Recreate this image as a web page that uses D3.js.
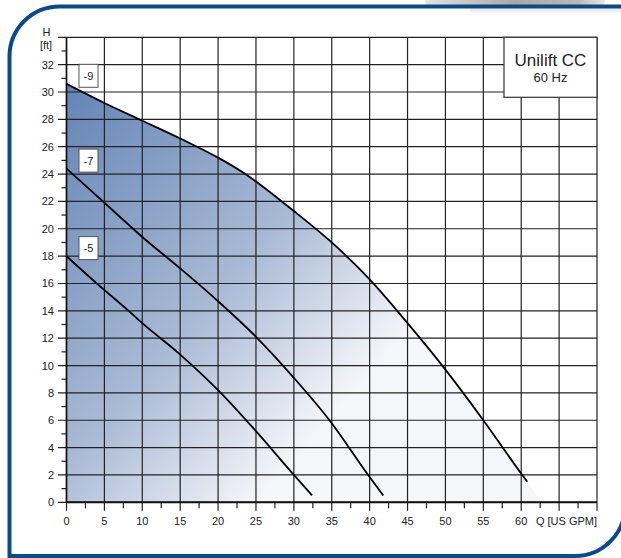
<!DOCTYPE html>
<html>
<head>
<meta charset="utf-8">
<script src="https://cdn.jsdelivr.net/npm/d3@7"></script>
<style>
  body { margin: 0; background: #fff; }
  svg { display: block; font-family: "Liberation Sans", Arial, sans-serif; }
</style>
</head>
<body>
<svg id="chart" width="621" height="558"></svg>
<script>
// pump curves
var pumpNames = ["-9", "-7", "-5"];
var q9 = [0, 5, 10, 15, 20, 23.6, 25, 28.4, 30, 35, 40, 45, 50, 55, 60, 60.8];
var h9 = [30.6, 29.2, 27.9, 26.6, 25.2, 24.0, 23.45, 22.0, 21.3, 19.0, 16.3, 13.1, 9.7, 6.0, 2.1, 1.5];
var q7 = [0, 5, 10, 15, 20, 25, 30, 34.7, 39.8, 41.8];
var h7 = [24.4, 21.9, 19.4, 17.1, 14.7, 12.1, 9.1, 6.0, 2.0, 0.5];
var q5 = [0, 4, 8.2, 10, 15, 20, 25, 30, 32.4];
var h5 = [18.0, 16.0, 14.0, 13.1, 10.8, 8.2, 5.2, 2.0, 0.5];
// where the shaded range meets the Q axis
var areaEndQ = 62.7;

var qTicks = [0, 5, 10, 15, 20, 25, 30, 35, 40, 45, 50, 55, 60, 65, 70];
var qTickLabels = ["0", "5", "10", "15", "20", "25", "30", "35", "40", "45", "50", "55", "60"];
var hTicks = [0, 2, 4, 6, 8, 10, 12, 14, 16, 18, 20, 22, 24, 26, 28, 30, 32, 34];
var hTickLabels = ["0", "2", "4", "6", "8", "10", "12", "14", "16", "18", "20", "22", "24", "26", "28", "30", "32"];

var title = "Unilift CC";
var subTitle = "60 Hz";

(function() {
  var svg = d3.select("#chart");
  var left = 66.5, right = 597, top = 37.3, bottom = 502.3;

  var x = d3.scaleLinear().domain([0, 70]).range([left, right]);
  var y = d3.scaleLinear().domain([0, 34]).range([bottom, top]);

  var zip = function(qs, hs) {
    return qs.map(function(q, i) { return { q: q, h: hs[i] }; });
  };
  var curves = [zip(q9, h9), zip(q7, h7), zip(q5, h5)];

  var defs = svg.append("defs");
  var grad = defs.append("linearGradient")
    .attr("id", "fade")
    .attr("gradientUnits", "userSpaceOnUse")
    .attr("x1", 66).attr("y1", 55)
    .attr("x2", 395).attr("y2", 345);
  grad.append("stop").attr("offset", 0).attr("stop-color", "#5f80b3");
  grad.append("stop").attr("offset", 0.62).attr("stop-color", "#a9bad5");
  grad.append("stop").attr("offset", 1).attr("stop-color", "#f5f6fa");

  var tab = defs.append("linearGradient").attr("id", "tab");
  tab.append("stop").attr("offset", 0).attr("stop-color", "#e2e2e2");
  tab.append("stop").attr("offset", 0.5).attr("stop-color", "#a8a8a8");
  tab.append("stop").attr("offset", 0.85).attr("stop-color", "#b8b8b8");
  tab.append("stop").attr("offset", 1).attr("stop-color", "#e8e8e8");

  // frame
  svg.append("rect")
    .attr("x", 425).attr("y", -6).attr("width", 180).attr("height", 12)
    .attr("rx", 5)
    .attr("fill", "url(#tab)");
  svg.append("rect")
    .attr("x", 470).attr("y", 8).attr("width", 160).attr("height", 4)
    .attr("fill", "#eceff2");
  svg.append("path")
    .attr("d", "M640,6.5 H59.5 A50,50 0 0 0 9.5,56.5 V556 H575 A50,50 0 0 0 625,506 V6.5")
    .attr("fill", "none")
    .attr("stroke", "#0b4a86")
    .attr("stroke-width", 4);

  var line = d3.line()
    .x(function(d) { return x(d.q); })
    .y(function(d) { return y(d.h); })
    .curve(d3.curveMonotoneX);

  // shaded working range under the biggest pump
  var areaD = line(curves[0]) + "L" + x(areaEndQ) + "," + y(0) + "L" + x(0) + "," + y(0) + "Z";
  svg.append("path")
    .attr("d", areaD)
    .attr("fill", "url(#fade)");

  // grid
  var grid = svg.append("g").attr("stroke", "#222").attr("stroke-width", 1.2);
  grid.selectAll("line.v")
    .data(qTicks)
    .enter().append("line")
    .attr("x1", function(d) { return x(d); }).attr("x2", function(d) { return x(d); })
    .attr("y1", top).attr("y2", bottom + 8.5);
  grid.selectAll("line.h")
    .data(hTicks)
    .enter().append("line")
    .attr("x1", left - 8.5).attr("x2", right)
    .attr("y1", function(d) { return y(d); }).attr("y2", function(d) { return y(d); });

  // minor ticks
  var minorQ = d3.range(2.5, 70, 5);
  var minorH = d3.range(1, 34, 2);
  grid.selectAll("line.mq")
    .data(minorQ)
    .enter().append("line")
    .attr("x1", function(d) { return x(d); }).attr("x2", function(d) { return x(d); })
    .attr("y1", bottom).attr("y2", bottom + 6);
  grid.selectAll("line.mh")
    .data(minorH)
    .enter().append("line")
    .attr("x1", left - 5).attr("x2", left)
    .attr("y1", function(d) { return y(d); }).attr("y2", function(d) { return y(d); });

  svg.append("line")
    .attr("x1", left).attr("x2", right)
    .attr("y1", bottom).attr("y2", bottom)
    .attr("stroke", "#111").attr("stroke-width", 2);
  svg.append("line")
    .attr("x1", left).attr("x2", left)
    .attr("y1", top).attr("y2", bottom)
    .attr("stroke", "#111").attr("stroke-width", 1.6);

  // tick labels
  svg.append("g").selectAll("text")
    .data(qTickLabels)
    .enter().append("text")
    .attr("x", function(d) { return x(+d); })
    .attr("y", bottom + 23)
    .attr("text-anchor", "middle")
    .attr("font-size", 11)
    .attr("fill", "#222")
    .text(function(d) { return d; });
  svg.append("g").selectAll("text")
    .data(hTickLabels)
    .enter().append("text")
    .attr("x", 54)
    .attr("y", function(d) { return y(+d) + 4; })
    .attr("text-anchor", "end")
    .attr("font-size", 11)
    .attr("fill", "#222")
    .text(function(d) { return d; });

  svg.append("text").attr("x", 46.5).attr("y", 36).attr("text-anchor", "middle")
    .attr("font-size", 11).attr("fill", "#222").text("H");
  svg.append("text").attr("x", 46).attr("y", 49).attr("text-anchor", "middle")
    .attr("font-size", 11).attr("fill", "#222").text("[ft]");
  svg.append("text").attr("x", right).attr("y", bottom + 23).attr("text-anchor", "end")
    .attr("font-size", 11).attr("fill", "#222").text("Q [US GPM]");

  // curves
  svg.append("g").selectAll("path")
    .data(curves)
    .enter().append("path")
    .attr("d", line)
    .attr("fill", "none")
    .attr("stroke", "#000")
    .attr("stroke-width", 1.8);

  // pump labels sit just above where each curve starts
  var tags = svg.append("g").selectAll("g")
    .data(curves)
    .enter().append("g")
    .attr("transform", function(d) {
      return "translate(" + x(2.9) + "," + (y(d[0].h) - 8) + ")";
    });
  tags.append("rect")
    .attr("x", -9.5).attr("y", -11.5).attr("width", 19).attr("height", 23)
    .attr("fill", "#fff").attr("stroke", "#555").attr("stroke-width", 1);
  tags.append("text")
    .attr("y", 4)
    .attr("text-anchor", "middle")
    .attr("font-size", 11)
    .attr("fill", "#222")
    .text(function(d, i) { return pumpNames[i]; });

  // title box
  svg.append("rect")
    .attr("x", 504).attr("y", top).attr("width", right - 504).attr("height", 60)
    .attr("fill", "#fff").attr("stroke", "#333").attr("stroke-width", 1.2);
  svg.append("text").attr("x", 550.5).attr("y", 66).attr("text-anchor", "middle")
    .attr("font-size", 17).attr("fill", "#222").text(title);
  svg.append("text").attr("x", 550.5).attr("y", 82).attr("text-anchor", "middle")
    .attr("font-size", 13).attr("fill", "#222").text(subTitle);
})();
</script>
</body>
</html>
